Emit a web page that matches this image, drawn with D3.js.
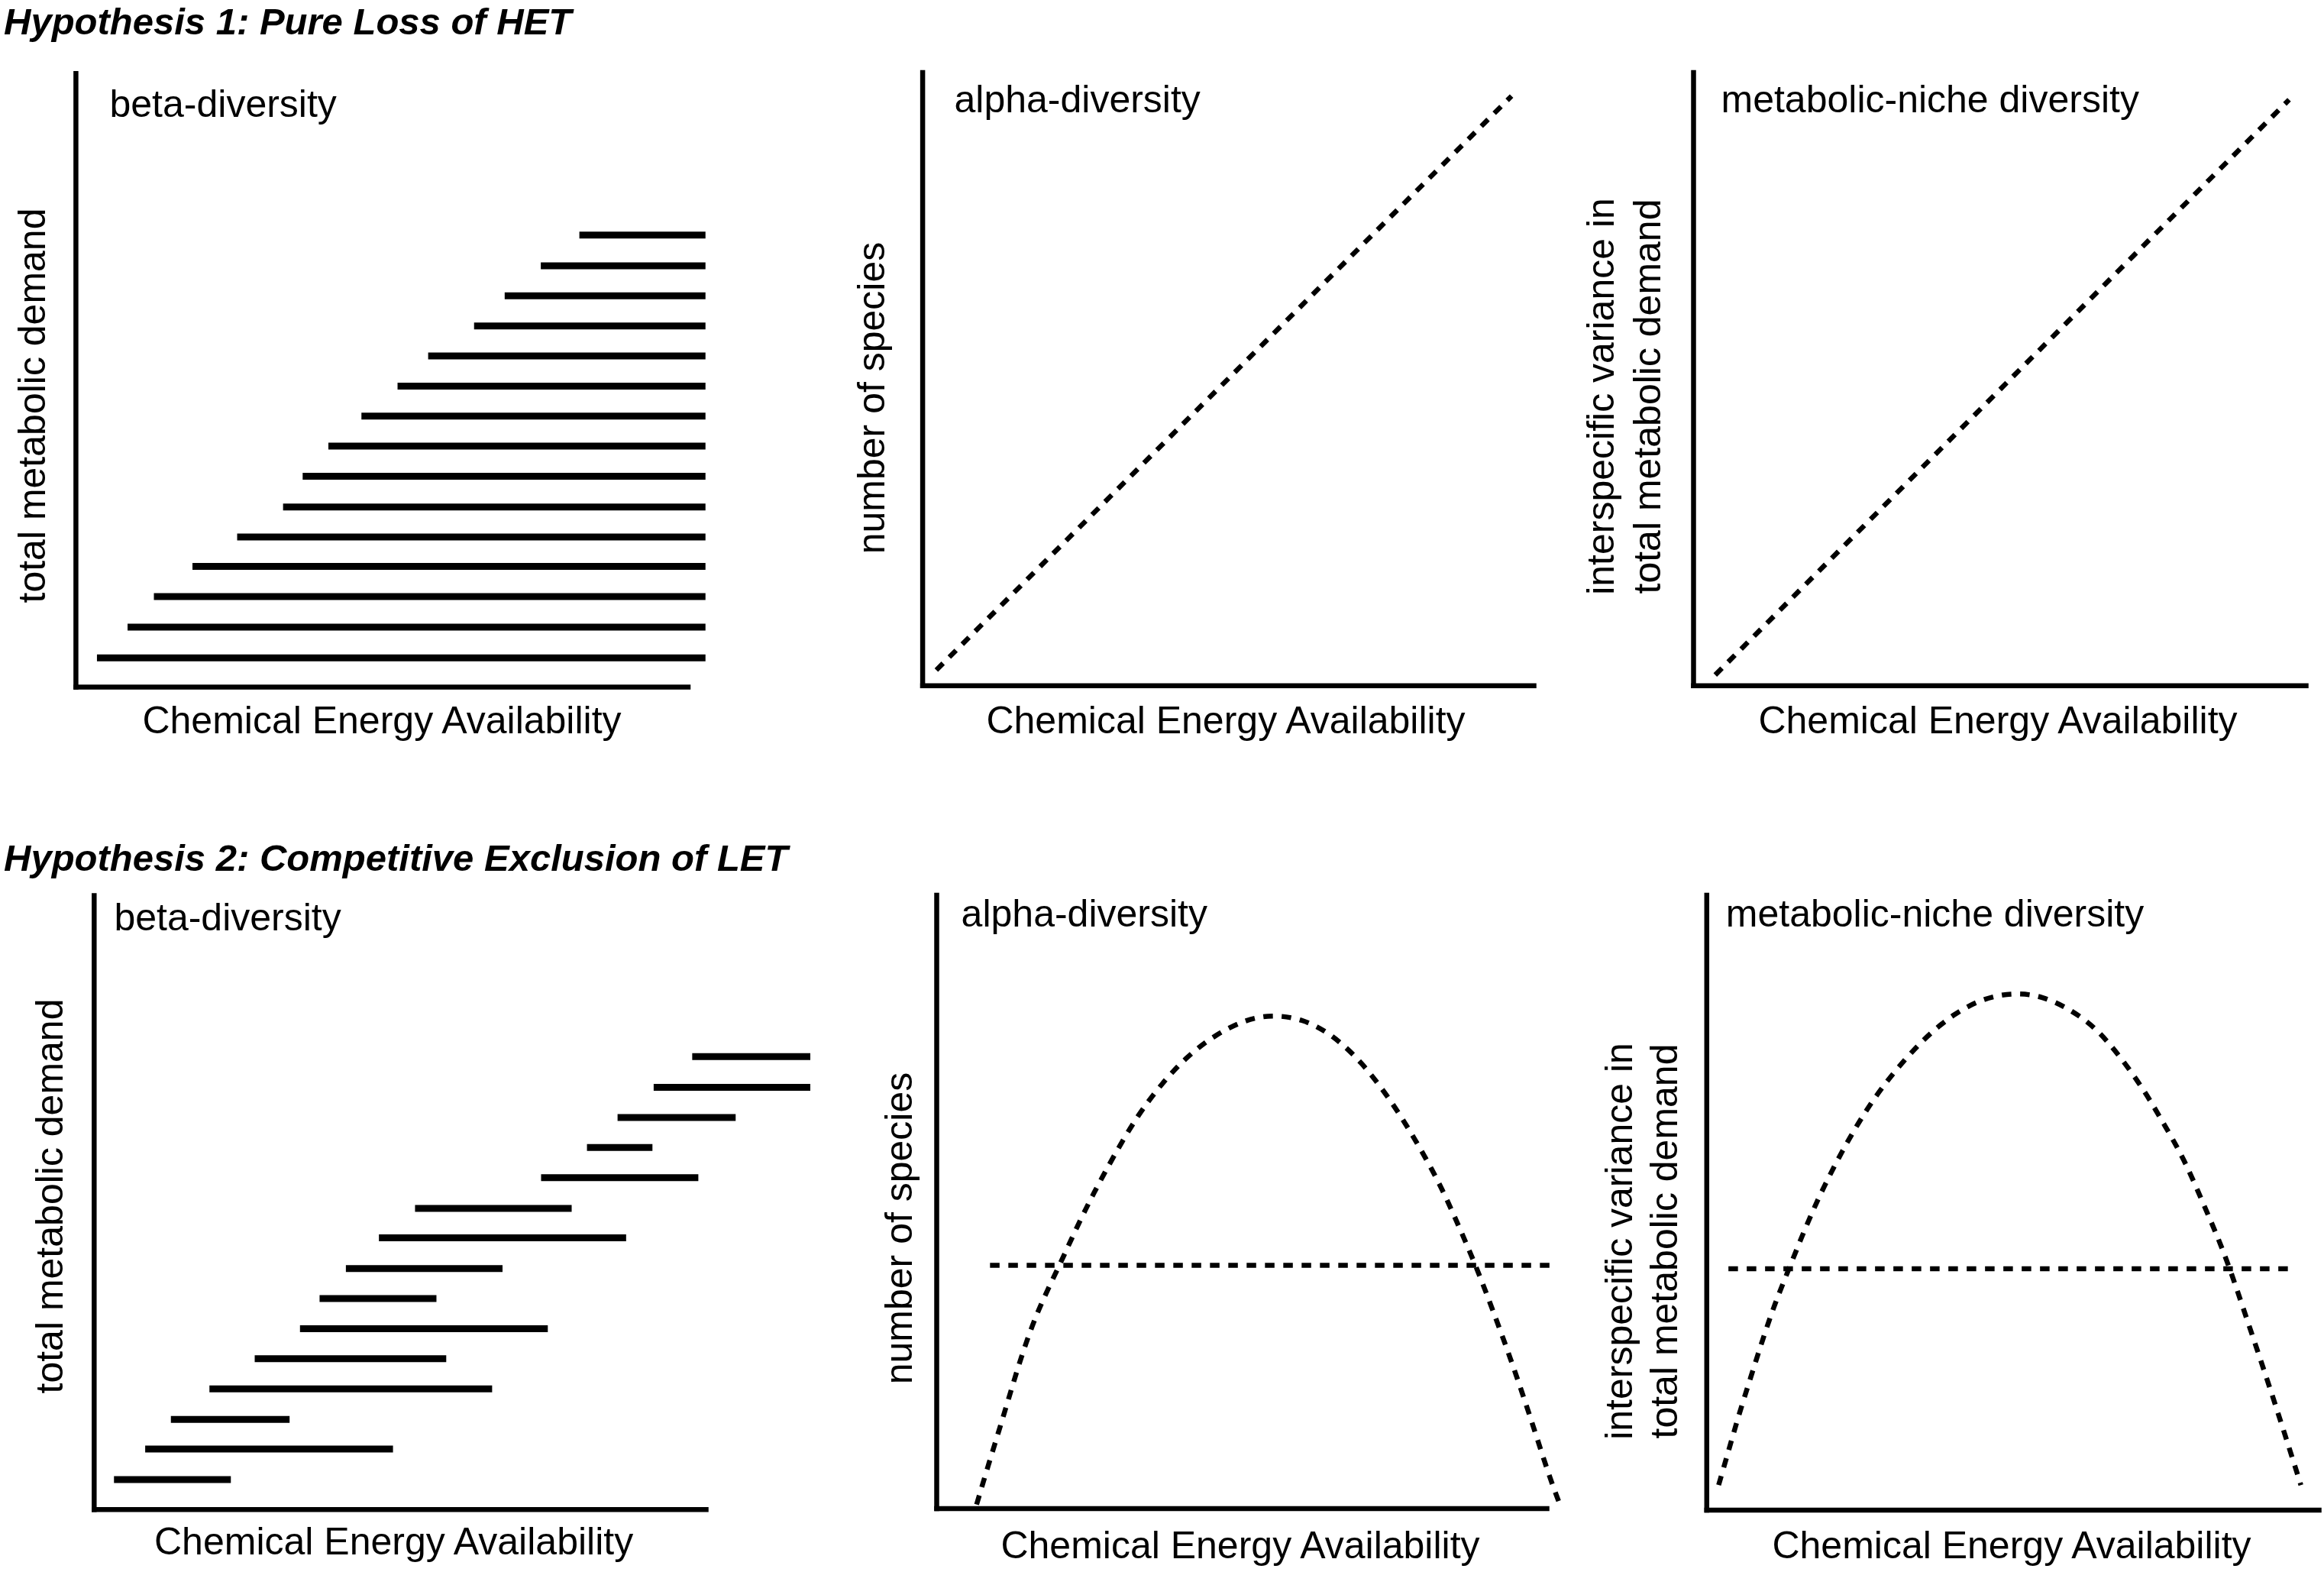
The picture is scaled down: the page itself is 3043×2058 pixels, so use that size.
<!DOCTYPE html>
<html>
<head>
<meta charset="utf-8">
<script src="https://cdn.jsdelivr.net/npm/d3@7/dist/d3.min.js"></script>
<style>
  html, body { margin: 0; padding: 0; background: #fff; }
  svg { display: block; }
  text { font-family: "Liberation Sans", Arial, Helvetica, sans-serif; fill: #000; }
</style>
</head>
<body>
<svg id="chart" width="3043" height="2058"></svg>
<script>
// ---------------- DATA (values in axis units, 0–100 on each axis) ----------------
const hypothesisTitles = ["Hypothesis 1: Pure Loss of HET", "Hypothesis 2: Competitive Exclusion of LET"];
const panelLabels = ["beta-diversity", "alpha-diversity", "metabolic-niche diversity"];
const xAxisLabel = "Chemical Energy Availability";
const yLabelBeta = ["total metabolic demand"];
const yLabelAlpha = ["number of species"];
const yLabelNiche = ["interspecific variance in", "total metabolic demand"];

// Hypothesis 1, beta-diversity: species ranges (bottom to top)
const h1BetaLevel = [4.7, 9.7, 14.7, 19.6, 24.4, 29.3, 34.3, 39.2, 44.1, 49.0, 53.9, 58.8, 63.7, 68.6, 73.6];
const h1BetaStart = [3.5, 8.5, 12.8, 19.1, 26.4, 33.9, 37.1, 41.3, 46.7, 52.6, 57.6, 65.1, 70.1, 76.0, 82.3];
const h1BetaEnd   = [102.9, 102.9, 102.9, 102.9, 102.9, 102.9, 102.9, 102.9, 102.9, 102.9, 102.9, 102.9, 102.9, 102.9, 102.9];

// Hypothesis 1, alpha & niche diversity: straight increasing lines
const h1AlphaX = [2.3, 96.4];
const h1AlphaY = [2.5, 96.1];
const h1NicheX = [3.6, 97.3];
const h1NicheY = [1.7, 95.5];

// Hypothesis 2, beta-diversity: species ranges (bottom to top)
const h2BetaLevel = [4.8, 9.8, 14.6, 19.6, 24.5, 29.4, 34.3, 39.2, 44.2, 49.0, 54.0, 58.9, 63.8, 68.7, 73.7];
const h2BetaStart = [3.3, 8.4, 12.6, 18.9, 26.3, 33.7, 36.9, 41.2, 46.6, 52.5, 73.1, 80.6, 85.6, 91.5, 97.8];
const h2BetaEnd   = [22.4, 48.9, 32.0, 65.1, 57.6, 74.2, 56.0, 66.8, 87.0, 78.1, 98.8, 91.3, 104.9, 117.1, 117.1];

// Hypothesis 2, alpha-diversity: hump-shaped curve + reference level
const h2AlphaX = [6.6, 8.6, 10.6, 12.6, 14.6, 17.0, 20.2, 23.0, 25.8, 29.0, 33.0, 37.0, 41.0, 45.7, 50.5, 54.9,
                  60.1, 64.9, 69.7, 74.5, 78.5, 82.5, 85.7, 88.4, 91.2, 94.4, 97.6, 100.4, 102.3];
const h2AlphaY = [0.6, 7.3, 13.7, 20.4, 26.8, 33.1, 39.6, 45.8, 51.4, 57.3, 64.1, 69.3, 73.6, 77.2, 79.6, 80.5,
                  79.8, 77.2, 72.8, 66.5, 60.1, 53.0, 45.8, 39.6, 32.3, 23.6, 14.1, 5.3, 0.3];
const h2AlphaRefLevel = 39.6;
const h2AlphaRefX = [8.8, 100.6];

// Hypothesis 2, metabolic-niche diversity: hump-shaped curve + reference level
const h2NicheX = [2.0, 3.6, 5.2, 7.2, 9.2, 11.1, 13.5, 15.9, 18.3, 21.1, 23.9, 27.4, 31.4, 35.8, 40.6, 45.3,
                  50.1, 54.9, 59.7, 63.6, 67.6, 71.6, 74.8, 78.0, 81.1, 83.5, 85.5, 87.5, 89.9, 92.3, 94.6, 97.1];
const h2NicheY = [4.0, 9.5, 15.1, 21.4, 27.7, 33.3, 39.2, 45.2, 50.7, 56.3, 61.4, 67.0, 72.1, 76.9, 80.8, 83.2,
                  84.1, 83.6, 81.2, 78.4, 73.7, 68.1, 62.6, 57.1, 49.9, 44.4, 39.2, 33.3, 26.2, 19.0, 11.9, 4.0];
const h2NicheRefLevel = 39.2;
const h2NicheRefX = [3.6, 95.5];

// ---------------- LAYOUT ----------------
const svg = d3.select("#chart");
const FS = 50;

const frames = {
  A1: {x0: 98.9,   x1: 900.5, yT: 95.7,   yB: 899},
  A2: {x0: 1207.6, x1: 2008,  yT: 94.4,   yB: 897.3},
  A3: {x0: 2217,   x1: 3019,  yT: 94.4,   yB: 897.3},
  B1: {x0: 122.8,  x1: 924,   yT: 1172,   yB: 1975.7},
  B2: {x0: 1226,   x1: 2025,  yT: 1171.5, yB: 1974.5},
  B3: {x0: 2234.3, x1: 3036,  yT: 1171.5, yB: 1976.4}
};

const labelPos = {
  A1: {px: 143.5,  pb: 153,    yb: [59],             yc: 531,  xc: 500,    xb: 960},
  A2: {px: 1249.5, pb: 146.7,  yb: [1157.7],         yc: 521,  xc: 1605,   xb: 960},
  A3: {px: 2253.5, pb: 146.7,  yb: [2113, 2173.7],   yc: 519,  xc: 2616,   xb: 960},
  B1: {px: 149.4,  pb: 1218.4, yb: [82],             yc: 1566, xc: 515.6,  xb: 2035},
  B2: {px: 1258.6, pb: 1213,   yb: [1194],           yc: 1608, xc: 1624,   xb: 2040},
  B3: {px: 2259.8, pb: 1213,   yb: [2137.4, 2196],   yc: 1625, xc: 2634,   xb: 2040}
};

// Hypothesis titles
svg.append("text").attr("x", 5).attr("y", 45)
  .attr("font-size", 49).attr("font-weight", "bold").attr("font-style", "italic")
  .text(hypothesisTitles[0]);
svg.append("text").attr("x", 5).attr("y", 1140)
  .attr("font-size", 49).attr("font-weight", "bold").attr("font-style", "italic")
  .text(hypothesisTitles[1]);

function makePanel(key, panelLabel, yLines) {
  const f = frames[key], L = labelPos[key];
  const x = d3.scaleLinear().domain([0, 100]).range([f.x0, f.x1]);
  const y = d3.scaleLinear().domain([0, 100]).range([f.yB, f.yT]);
  const g = svg.append("g");

  // axes (no ticks, just the axis lines)
  const ax = g.append("g").attr("transform", `translate(0,${f.yB})`)
    .call(d3.axisBottom(x).tickValues([]).tickSizeOuter(0));
  const ay = g.append("g").attr("transform", `translate(${f.x0},0)`)
    .call(d3.axisLeft(y).tickValues([]).tickSizeOuter(0));
  [ax, ay].forEach(a => a.select(".domain")
    .attr("stroke", "#000").attr("stroke-width", 6.5).attr("stroke-linecap", "square"));

  // panel label
  g.append("text").attr("x", L.px).attr("y", L.pb).attr("font-size", FS).text(panelLabel);
  // x label
  g.append("text").attr("x", L.xc).attr("y", L.xb).attr("font-size", FS)
    .attr("text-anchor", "middle").text(xAxisLabel);
  // y label (rotated, possibly two lines)
  yLines.forEach((t, i) => {
    g.append("text")
      .attr("transform", `translate(${L.yb[i]},${L.yc}) rotate(-90)`)
      .attr("font-size", FS).attr("text-anchor", "middle").text(t);
  });
  return {g, x, y};
}

function drawRanges(p, level, start, end) {
  const data = level.map((lv, i) => ({lv, s: start[i], e: end[i]}));
  p.g.append("g").selectAll("line").data(data).join("line")
    .attr("x1", d => p.x(d.s)).attr("x2", d => p.x(d.e))
    .attr("y1", d => p.y(d.lv)).attr("y2", d => p.y(d.lv))
    .attr("stroke", "#000").attr("stroke-width", 9);
}

function drawDashed(p, xs, ys, curve) {
  const pts = xs.map((v, i) => [v, ys[i]]);
  const line = d3.line().x(d => p.x(d[0])).y(d => p.y(d[1])).curve(curve || d3.curveLinear);
  p.g.append("path").datum(pts).attr("d", line)
    .attr("fill", "none").attr("stroke", "#000").attr("stroke-width", 6.5)
    .attr("stroke-dasharray", "12.5 11.5");
}

// ---- Hypothesis 1 ----
const pA1 = makePanel("A1", panelLabels[0], yLabelBeta);
drawRanges(pA1, h1BetaLevel, h1BetaStart, h1BetaEnd);

const pA2 = makePanel("A2", panelLabels[1], yLabelAlpha);
drawDashed(pA2, h1AlphaX, h1AlphaY);

const pA3 = makePanel("A3", panelLabels[2], yLabelNiche);
drawDashed(pA3, h1NicheX, h1NicheY);

// ---- Hypothesis 2 ----
const pB1 = makePanel("B1", panelLabels[0], yLabelBeta);
drawRanges(pB1, h2BetaLevel, h2BetaStart, h2BetaEnd);

const pB2 = makePanel("B2", panelLabels[1], yLabelAlpha);
drawDashed(pB2, h2AlphaRefX, [h2AlphaRefLevel, h2AlphaRefLevel]);
drawDashed(pB2, h2AlphaX, h2AlphaY, d3.curveBasis);

const pB3 = makePanel("B3", panelLabels[2], yLabelNiche);
drawDashed(pB3, h2NicheRefX, [h2NicheRefLevel, h2NicheRefLevel]);
drawDashed(pB3, h2NicheX, h2NicheY, d3.curveBasis);
</script>
</body>
</html>
